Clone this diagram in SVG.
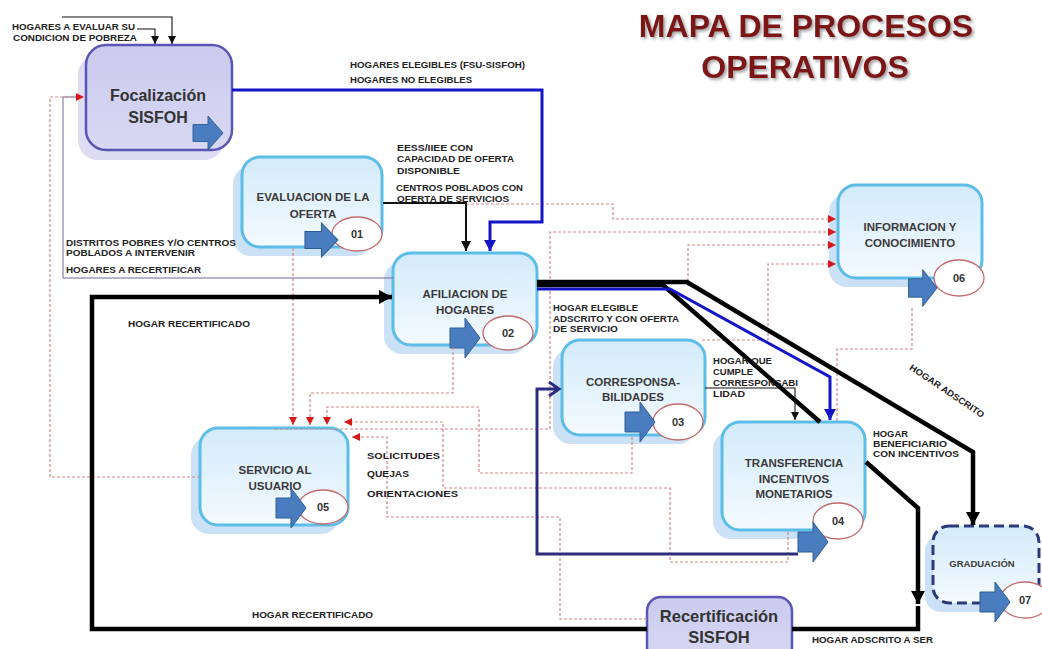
<svg xmlns="http://www.w3.org/2000/svg" width="1042" height="649" viewBox="0 0 1042 649">
<style>
.lbl{font-family:"Liberation Sans",Arial,sans-serif;font-weight:bold;font-size:9px;fill:#222}
.nt{font-family:"Liberation Sans",Arial,sans-serif;font-weight:bold;font-size:11.5px;fill:#3a3a3a;text-anchor:middle}
.big{font-family:"Liberation Sans",Arial,sans-serif;font-weight:bold;fill:#333;text-anchor:middle}
.num{font-family:"Liberation Sans",Arial,sans-serif;font-weight:bold;font-size:11px;fill:#333;text-anchor:middle}
.title{font-family:"Liberation Sans",Arial,sans-serif;font-weight:bold;font-size:32px;fill:#7b1518;text-anchor:middle}
.box{fill:url(#gBlue);stroke:#5cbde8;stroke-width:3}
.shd{fill:#cbe2f6}
.lav{fill:url(#gLav);stroke:#5a56b5;stroke-width:2.5}
.lavshd{fill:#dddcf2}
.ell{fill:#fff;stroke:#c46a6a;stroke-width:1.3}
.arr{fill:#4a7dbf;stroke:#2f5c94;stroke-width:1}
.rd{fill:none;stroke:#d08888;stroke-width:1.2;stroke-dasharray:3 2}
.thk{fill:none;stroke:#000;stroke-width:4.5}
.blu{fill:none;stroke:#1515c8;stroke-width:3}
.nav{fill:none;stroke:#2c2c7c;stroke-width:3}
.thin{fill:none;stroke:#111;stroke-width:1.1}
.pur{fill:none;stroke:#6a6aa0;stroke-width:1}
</style>
<defs>
<linearGradient id="gBlue" x1="0" y1="0" x2="0" y2="1">
<stop offset="0" stop-color="#d3ebfb"/>
<stop offset="1" stop-color="#f4faff"/>
</linearGradient>
<linearGradient id="gLav" x1="0" y1="0" x2="0" y2="1">
<stop offset="0" stop-color="#cacbee"/>
<stop offset="1" stop-color="#d8d8f3"/>
</linearGradient>
<filter id="tsh" x="-10%" y="-30%" width="120%" height="160%">
<feDropShadow dx="2" dy="2" stdDeviation="1.5" flood-color="#555" flood-opacity="0.55"/>
</filter>
<path id="blk" d="M-30,-10 H-15 V-20 L0,0 L-15,20 V10 H-30 Z"/>
<marker id="mRed" markerUnits="userSpaceOnUse" markerWidth="10" markerHeight="10" refX="8" refY="4" orient="auto">
<path d="M0,0 L8,4 L0,8 Z" fill="#d81818"/>
</marker>
<marker id="mBs" markerUnits="userSpaceOnUse" markerWidth="10" markerHeight="10" refX="8" refY="4" orient="auto">
<path d="M0,0 L8,4 L0,8 Z" fill="#111"/>
</marker>
<marker id="mBm" markerUnits="userSpaceOnUse" markerWidth="12" markerHeight="12" refX="10" refY="5" orient="auto">
<path d="M0,0 L10,5 L0,10 Z" fill="#111"/>
</marker>
<marker id="mBl" markerUnits="userSpaceOnUse" markerWidth="16" markerHeight="16" refX="13" refY="7" orient="auto">
<path d="M0,0 L13,7 L0,14 Z" fill="#000"/>
</marker>
<marker id="mBlue" markerUnits="userSpaceOnUse" markerWidth="14" markerHeight="14" refX="11" refY="6" orient="auto">
<path d="M0,0 L11,6 L0,12 Z" fill="#1515c8"/>
</marker>
<marker id="mNav" markerUnits="userSpaceOnUse" markerWidth="16" markerHeight="18" refX="11" refY="8" orient="auto">
<path d="M1,1 L11,8 L1,15" fill="none" stroke="#2c2c7c" stroke-width="3"/>
</marker>
</defs>
<rect width="1042" height="649" fill="#fff"/>

<g id="title">
<text class="title" x="806" y="37" filter="url(#tsh)">MAPA DE PROCESOS</text>
<text class="title" x="805" y="78" filter="url(#tsh)">OPERATIVOS</text>
</g>

<g id="n-foc">
<rect class="lavshd" x="78" y="55" width="146" height="105" rx="20"/>
<rect class="lav" x="86" y="45" width="146" height="105" rx="20"/>
<text class="big" x="158" y="101" style="font-size:16px">Focalización</text>
<text class="big" x="158" y="123" style="font-size:16px">SISFOH</text>
<use href="#blk" class="arr" transform="translate(223,133) scale(1,0.85)"/>
</g>

<g id="n-eval">
<rect class="shd" x="233" y="166" width="140" height="90" rx="18"/>
<rect class="box" x="242" y="157" width="140" height="90" rx="18"/>
<text class="nt" x="313" y="201">EVALUACION DE LA</text>
<text class="nt" x="313" y="218">OFERTA</text>
<ellipse class="ell" cx="357" cy="234" rx="25" ry="17"/>
<text class="num" x="357" y="238">01</text>
<use href="#blk" class="arr" transform="translate(338,240) scale(1.1,0.85)"/>
</g>

<g id="n-afil">
<rect class="shd" x="384" y="262" width="144" height="92" rx="18"/>
<rect class="box" x="393" y="253" width="144" height="92" rx="18"/>
<text class="nt" x="465" y="298">AFILIACION DE</text>
<text class="nt" x="465" y="314">HOGARES</text>
<ellipse class="ell" cx="508" cy="333" rx="25" ry="17"/>
<text class="num" x="508" y="337">02</text>
<use href="#blk" class="arr" transform="translate(480,338)"/>
</g>

<g id="n-corr">
<rect class="shd" x="553" y="349" width="143" height="95" rx="18"/>
<rect class="box" x="562" y="340" width="143" height="95" rx="18"/>
<text class="nt" x="633" y="386">CORRESPONSA-</text>
<text class="nt" x="633" y="401">BILIDADES</text>
<ellipse class="ell" cx="678" cy="422" rx="25" ry="18"/>
<text class="num" x="678" y="426">03</text>
<use href="#blk" class="arr" transform="translate(655,422)"/>
</g>

<g id="n-trans">
<rect class="shd" x="713" y="431" width="143" height="108" rx="18"/>
<rect class="box" x="722" y="422" width="143" height="108" rx="18"/>
<text class="nt" x="794" y="467">TRANSFERENCIA</text>
<text class="nt" x="794" y="483">INCENTIVOS</text>
<text class="nt" x="794" y="498">MONETARIOS</text>
<ellipse class="ell" cx="838" cy="521" rx="25" ry="18"/>
<text class="num" x="838" y="525">04</text>
<use href="#blk" class="arr" transform="translate(828,542)"/>
</g>

<g id="n-info">
<rect class="shd" x="829" y="194" width="144" height="93" rx="18"/>
<rect class="box" x="838" y="185" width="144" height="93" rx="18"/>
<text class="nt" x="910" y="231">INFORMACION Y</text>
<text class="nt" x="910" y="247">CONOCIMIENTO</text>
<ellipse class="ell" cx="959" cy="278" rx="25" ry="18"/>
<text class="num" x="959" y="282">06</text>
<use href="#blk" class="arr" transform="translate(937,288) scale(0.95,0.92)"/>
</g>

<g id="n-serv">
<rect class="shd" x="191" y="437" width="148" height="97" rx="18"/>
<rect class="box" x="200" y="428" width="148" height="97" rx="18"/>
<text class="nt" x="275" y="474">SERVICIO AL</text>
<text class="nt" x="275" y="490">USUARIO</text>
<ellipse class="ell" cx="323" cy="507" rx="25" ry="17"/>
<text class="num" x="323" y="511">05</text>
<use href="#blk" class="arr" transform="translate(306,508)"/>
</g>

<g id="n-grad">
<rect class="shd" x="925" y="535" width="107" height="77" rx="16"/>
<rect x="933" y="526" width="106" height="77" rx="16" fill="url(#gBlue)" stroke="#2c3a7c" stroke-width="3" stroke-dasharray="10 5"/>
<text class="nt" x="982" y="567" style="font-size:9.5px">GRADUACIÓN</text>
<ellipse class="ell" cx="1025" cy="600" rx="25" ry="18"/>
<text class="num" x="1025" y="604">07</text>
<use href="#blk" class="arr" transform="translate(1010,602)"/>
</g>

<g id="n-recert">
<rect class="lav" x="647" y="597" width="145" height="64" rx="14"/>
<text class="big" x="719" y="622" style="font-size:16.5px">Recertificación</text>
<text class="big" x="719" y="643" style="font-size:16.5px">SISFOH</text>
</g>

<g id="connectors">
<!-- red dashed -->
<path class="rd" d="M293,248 V425" marker-end="url(#mRed)"/>
<path class="rd" d="M453,347 V393 H310 V425" marker-end="url(#mRed)"/>
<path class="rd" d="M632,437 V473 H479 V407 H327 V425" marker-end="url(#mRed)"/>
<path class="rd" d="M788,532 V562 H670 V488 H443 V422 H344" marker-end="url(#mRed)"/>
<path class="rd" d="M647,619 H560 V517 H387 V437 H352" marker-end="url(#mRed)"/>
<path class="rd" d="M275,429 H550 V232 H836" marker-end="url(#mRed)"/>
<path class="rd" d="M466,204 H613 V219 H836" marker-end="url(#mRed)"/>
<path class="rd" d="M688,286 V245 H836" marker-end="url(#mRed)"/>
<path class="rd" d="M702,340 H768 V264 H836" marker-end="url(#mRed)"/>
<path class="rd" d="M837,421 V349 H912 V308"/>
<path class="pur" d="M393,278 H63 V97 H80"/>
<path class="rd" d="M200,477 H50 V97 H84" marker-end="url(#mRed)"/>
<!-- inputs to Focalizacion -->
<path class="thin" d="M62,17 H172 V44" marker-end="url(#mBs)"/>
<path class="thin" d="M137,29 H155 V44" marker-end="url(#mBs)"/>
<!-- blue from Focalizacion -->
<path class="blu" d="M232,90 H542 V222 H490 V251" marker-end="url(#mBlue)"/>
<!-- black from Evaluacion -->
<path class="thin" style="stroke-width:2" d="M383,203 H466 V251" marker-end="url(#mBm)"/>
<!-- hogar recertificado loop -->
<path class="thk" d="M647,629 H92 V297 H392" marker-end="url(#mBl)"/>
<!-- navy to corresponsabilidades -->
<path class="nav" d="M798,554 H537 V389 H559" marker-end="url(#mNav)"/>
<!-- outputs of afiliacion -->
<path class="thk" d="M537,282 H687 L973,452 V525" marker-end="url(#mBl)"/>
<path class="thk" d="M537,285 H663 L820,422"/>
<path class="thk" d="M866,462 L918,508 V604" marker-end="url(#mBl)"/>
<path class="thk" d="M792,629 H918 V606"/>
<path class="blu" d="M537,289 H670 L830,377 V420" marker-end="url(#mBlue)"/>
<path class="thin" d="M705,388 H795 V420" marker-end="url(#mBs)"/>

<!-- labels -->
<text class="lbl" x="12" y="30" textLength="123" lengthAdjust="spacingAndGlyphs">HOGARES A EVALUAR SU</text>
<text class="lbl" x="13" y="41" textLength="124" lengthAdjust="spacingAndGlyphs">CONDICION DE POBREZA</text>
<text class="lbl" x="350" y="68" textLength="175" lengthAdjust="spacingAndGlyphs">HOGARES ELEGIBLES (FSU-SISFOH)</text>
<text class="lbl" x="350" y="83" textLength="122" lengthAdjust="spacingAndGlyphs">HOGARES NO ELEGIBLES</text>
<text class="lbl" x="397" y="151" textLength="76" lengthAdjust="spacingAndGlyphs">EESS/IIEE CON</text>
<text class="lbl" x="397" y="162" textLength="117" lengthAdjust="spacingAndGlyphs">CAPACIDAD DE OFERTA</text>
<text class="lbl" x="397" y="174" textLength="63" lengthAdjust="spacingAndGlyphs">DISPONIBLE</text>
<text class="lbl" x="396" y="191" textLength="127" lengthAdjust="spacingAndGlyphs">CENTROS POBLADOS CON</text>
<text class="lbl" x="397" y="202" textLength="112" lengthAdjust="spacingAndGlyphs">OFERTA DE SERVICIOS</text>
<text class="lbl" x="66" y="246" textLength="170" lengthAdjust="spacingAndGlyphs">DISTRITOS POBRES Y/O CENTROS</text>
<text class="lbl" x="66" y="256" textLength="129" lengthAdjust="spacingAndGlyphs">POBLADOS A INTERVENIR</text>
<text class="lbl" x="66" y="273" textLength="135" lengthAdjust="spacingAndGlyphs">HOGARES A RECERTIFICAR</text>
<text class="lbl" x="128" y="327" textLength="122" lengthAdjust="spacingAndGlyphs">HOGAR RECERTIFICADO</text>
<text class="lbl" x="252" y="618" textLength="121" lengthAdjust="spacingAndGlyphs">HOGAR RECERTIFICADO</text>
<text class="lbl" x="553" y="311" textLength="85" lengthAdjust="spacingAndGlyphs">HOGAR ELEGIBLE</text>
<text class="lbl" x="553" y="322" textLength="126" lengthAdjust="spacingAndGlyphs">ADSCRITO Y CON OFERTA</text>
<text class="lbl" x="553" y="332" textLength="65" lengthAdjust="spacingAndGlyphs">DE SERVICIO</text>
<text class="lbl" x="713" y="364" textLength="59" lengthAdjust="spacingAndGlyphs">HOGAR QUE</text>
<text class="lbl" x="713" y="375" textLength="40" lengthAdjust="spacingAndGlyphs">CUMPLE</text>
<text class="lbl" x="713" y="386" textLength="85" lengthAdjust="spacingAndGlyphs">CORRESPONSABI</text>
<text class="lbl" x="713" y="397" textLength="32" lengthAdjust="spacingAndGlyphs">LIDAD</text>
<text class="lbl" x="873" y="437" textLength="35" lengthAdjust="spacingAndGlyphs">HOGAR</text>
<text class="lbl" x="873" y="447" textLength="74" lengthAdjust="spacingAndGlyphs">BENEFICIARIO</text>
<text class="lbl" x="873" y="457" textLength="86" lengthAdjust="spacingAndGlyphs">CON INCENTIVOS</text>
<text class="lbl" x="0" y="3" text-anchor="middle" transform="translate(947,391) rotate(34)" textLength="88" lengthAdjust="spacingAndGlyphs">HOGAR ADSCRITO</text>
<text class="lbl" x="367" y="459" textLength="73" lengthAdjust="spacingAndGlyphs" style="font-size:9.5px">SOLICITUDES</text>
<text class="lbl" x="367" y="477" textLength="42" lengthAdjust="spacingAndGlyphs" style="font-size:9.5px">QUEJAS</text>
<text class="lbl" x="367" y="497" textLength="91" lengthAdjust="spacingAndGlyphs" style="font-size:9.5px">ORIENTACIONES</text>
<text class="lbl" x="812" y="643" textLength="121" lengthAdjust="spacingAndGlyphs">HOGAR ADSCRITO A SER</text>
</g>
</svg>
